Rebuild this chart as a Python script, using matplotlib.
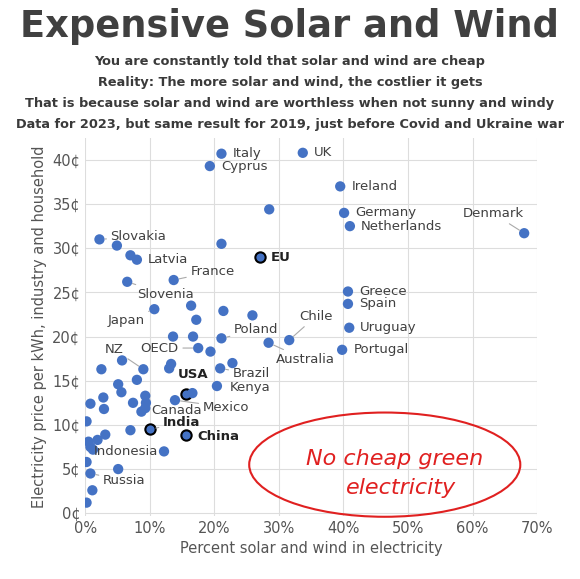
import matplotlib.pyplot as plt
from matplotlib.patches import Ellipse

# percent solar+wind share, price in cents/kWh
share = [21.1, 19.3, 33.7, 28.5, 2.2, 4.9, 7.0, 8.0, 21.1, 27.0, 13.7, 6.5, 16.4, 10.7,
         21.4, 25.9, 17.2, 31.6, 28.4, 13.6, 16.7, 21.1, 17.5, 19.4, 5.7, 2.5, 9.0, 13.3,
         13.0, 20.9, 22.8, 8.0, 5.1, 20.4, 5.6, 15.6, 16.6, 2.8, 9.3, 13.9, 0.8, 7.4, 9.4,
         2.9, 9.3, 8.7, 0.2, 10.1, 15.6, 7.0, 3.1, 1.9, 0.5, 0.8, 1.2, 12.2, 0.2, 5.1, 0.8,
         1.1, 0.2, 39.5, 40.1, 41.0, 68.0, 40.7, 40.7, 40.9, 39.8]
price = [40.7, 39.3, 40.8, 34.4, 31.0, 30.3, 29.2, 28.7, 30.5, 29.0, 26.4, 26.2, 23.5, 23.1,
         22.9, 22.4, 21.9, 19.6, 19.3, 20.0, 20.0, 19.8, 18.7, 18.3, 17.3, 16.3, 16.3, 16.9,
         16.4, 16.4, 17.0, 15.1, 14.6, 14.4, 13.7, 13.5, 13.6, 13.1, 13.3, 12.8, 12.4, 12.5, 12.5,
         11.8, 11.9, 11.5, 10.4, 9.5, 8.9, 9.4, 8.9, 8.3, 8.1, 7.5, 7.2, 7.0, 5.8, 5.0, 4.5,
         2.6, 1.2, 37.0, 34.0, 32.5, 31.7, 25.1, 23.7, 21.0, 18.5]
names = ['Italy', 'Cyprus', 'UK', '', 'Slovakia', '', '', 'Latvia', '', 'EU', 'France', 'Slovenia',
         '', 'Japan', '', '', '', 'Chile', 'Australia', '', '', 'Poland', 'OECD', '', '', '', 'NZ',
         '', '', 'Brazil', '', '', '', 'Kenya', '', 'USA', '', '', '', 'Mexico', '', '', '',
         '', '', 'Canada', '', 'India', 'China', '', '', '', '', '', '', 'Indonesia', '', '',
         'Russia', '', '', 'Ireland', 'Germany', 'Netherlands', 'Denmark', 'Greece', 'Spain',
         'Uruguay', 'Portugal']
highlight = ['EU', 'USA', 'India', 'China']

# label offsets (points), horizontal alignment, leader line
offsets = {
    'Italy': (8, 0, 'left', False), 'Cyprus': (8, 0, 'left', False), 'UK': (8, 0, 'left', False),
    'Slovakia': (8, 2, 'left', True), 'Latvia': (8, 0, 'left', False), 'EU': (8, 0, 'left', False),
    'France': (12, 6, 'left', True), 'Slovenia': (7, -9, 'left', True),
    'Japan': (-7, -8, 'right', True), 'Chile': (7, 17, 'left', True),
    'Australia': (5, -12, 'left', True), 'Poland': (9, 6, 'left', True),
    'OECD': (-14, 0, 'right', True), 'NZ': (-14, 14, 'right', True),
    'Brazil': (9, -4, 'left', True), 'Kenya': (9, -1, 'left', False),
    'USA': (-6, 14, 'left', False), 'Mexico': (20, -5, 'left', True),
    'Canada': (7, 1, 'left', False), 'India': (9, 5, 'left', True),
    'China': (8, -1, 'left', False), 'Indonesia': (-4, 0, 'right', False),
    'Russia': (9, -5, 'left', True), 'Ireland': (8, 0, 'left', False),
    'Germany': (8, 0, 'left', False), 'Netherlands': (8, 0, 'left', False),
    'Denmark': (0, 14, 'right', True), 'Greece': (8, 0, 'left', False),
    'Spain': (8, 0, 'left', False), 'Uruguay': (8, 0, 'left', False),
    'Portugal': (8, 0, 'left', False),
}

fig = plt.figure(figsize=(5.8, 5.79), dpi=100)
ax = fig.add_axes([0.147, 0.109, 0.779, 0.653])

txt = '#3a3a3a'
fig.text(0.5, 0.955, 'Expensive Solar and Wind', ha='center', va='center',
         fontsize=26.5, fontweight='bold', color='#404040')
subs = ['You are constantly told that solar and wind are cheap',
        'Reality: The more solar and wind, the costlier it gets',
        'That is because solar and wind are worthless when not sunny and windy',
        'Data for 2023, but same result for 2019, just before Covid and Ukraine war']
for i, s in enumerate(subs):
    fig.text(0.5, 0.893 - i * 0.036, s, ha='center', va='center', fontsize=9.3,
             fontweight='bold', color=txt)

blue = '#4472C4'
for x, y, n in zip(share, price, names):
    hl = n in highlight
    ax.scatter(x / 100, y, s=55, color=blue, edgecolors='black' if hl else 'none',
               linewidths=1.5, zorder=3)
    if n:
        dx, dy, ha, lead = offsets[n]
        ax.annotate(n, (x / 100, y), xytext=(dx, dy), textcoords='offset points',
                    ha=ha, va='center', fontsize=9.5,
                    fontweight='bold' if hl else 'normal', color='#404040' if not hl else '#222222',
                    arrowprops=dict(arrowstyle='-', color='#aaaaaa', lw=0.8,
                                    shrinkA=1, shrinkB=4) if lead else None, zorder=4)

ax.set_xlim(0, 0.7)
ax.set_ylim(-0.3, 42.5)
ax.set_xticks([i / 10 for i in range(8)])
ax.set_xticklabels([f'{i * 10}%' for i in range(8)])
ax.set_yticks(range(0, 41, 5))
ax.set_yticklabels([f'{v}¢' for v in range(0, 41, 5)])
ax.tick_params(length=0, labelsize=10.5, colors='#555555')
ax.grid(color='#dddddd', lw=0.8)
ax.set_axisbelow(True)
for sp in ax.spines.values():
    sp.set_visible(False)
ax.set_xlabel('Percent solar and wind in electricity', fontsize=10.5, color='#555555')
ax.set_ylabel('Electricity price per kWh, industry and household', fontsize=10.5, color='#555555')

ax.add_patch(Ellipse((0.464, 5.5), 0.42, 11.8, fill=False, edgecolor='#e02020', lw=1.5,
                     zorder=5, clip_on=False))
ax.text(0.48, 6.1, 'No cheap green', ha='center', va='center', fontsize=16,
        style='italic', color='#e02020', zorder=6)
ax.text(0.49, 2.9, 'electricity', ha='center', va='center', fontsize=16,
        style='italic', color='#e02020', zorder=6)

fig.savefig('out.png')
